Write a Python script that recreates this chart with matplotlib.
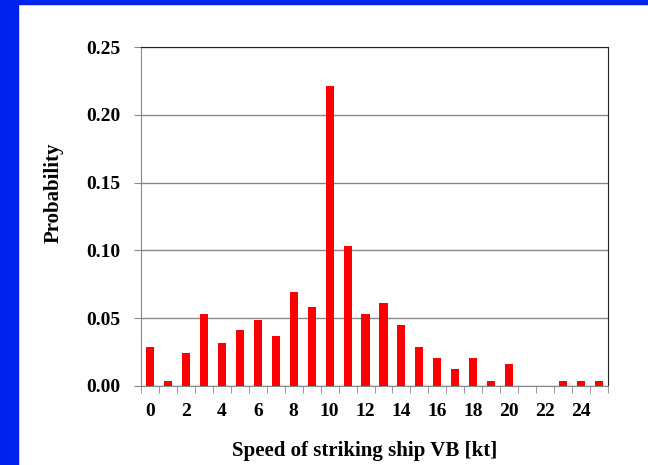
import matplotlib
matplotlib.use("Agg")
import matplotlib.pyplot as plt
from matplotlib.patches import Rectangle
import numpy as np

speeds = list(range(26))
probabilities = [0.029, 0.004, 0.024, 0.053, 0.032, 0.041, 0.049, 0.037, 0.069, 0.058,
                 0.221, 0.103, 0.053, 0.061, 0.045, 0.029, 0.021, 0.0125, 0.021, 0.004,
                 0.016, 0.0, 0.0, 0.004, 0.004, 0.004]
xtick_labels = [str(v) for v in range(0, 25, 2)]
yticks = [0.00, 0.05, 0.10, 0.15, 0.20, 0.25]

plt.rcParams['font.family'] = ['Liberation Serif', 'DejaVu Serif']
plt.rcParams['font.weight'] = 'bold'

fig = plt.figure(figsize=(6.48, 4.65), dpi=100)
fig.patch.set_facecolor('white')
# blue frame on left and top
fig.patches.append(Rectangle((0, 0), 18 / 648, 1, transform=fig.transFigure, color='#0022EE', zorder=0))
fig.patches.append(Rectangle((0, 1 - 4 / 465), 1, 4 / 465, transform=fig.transFigure, color='#0022EE', zorder=0))

ax = fig.add_axes([141 / 648, 1 - 386 / 465, 467 / 648, 339 / 465])
ax.bar(speeds, probabilities, width=0.45, color='#FF0000', zorder=3)
ax.set_xlim(-0.5, 25.5)
ax.set_ylim(0, 0.25)
ax.set_yticks(yticks)
ax.set_yticklabels([f"{v:.2f}" for v in yticks], fontsize=14, fontweight='bold')
ax.set_xticks(list(range(0, 25, 2)))
ax.set_xticklabels(xtick_labels, fontsize=14, fontweight='bold')
ax.set_xticks(np.arange(-0.5, 26, 1), minor=True)
ax.tick_params(axis='x', which='major', length=0, pad=12)
ax.tick_params(axis='x', which='minor', length=5, color='#888888', direction='out')
ax.tick_params(axis='y', length=5, color='#888888', direction='out', pad=10)
ax.yaxis.grid(True, color='#888888', linewidth=1, zorder=0)
ax.set_axisbelow(True)
ax.spines['left'].set_color('#888888')
ax.spines['bottom'].set_color('#888888')
ax.spines['top'].set_color('#222222')
ax.spines['right'].set_color('#222222')

fig.text(54 / 648, 1 - 193 / 465, 'Probability', rotation=90, ha='center', va='center',
         fontsize=15, fontweight='bold')
fig.text(365 / 648, 1 - 451 / 465, 'Speed of striking ship VB [kt]', ha='center', va='center',
         fontsize=15, fontweight='bold')

fig.savefig('out.png', dpi=100, facecolor='white')
